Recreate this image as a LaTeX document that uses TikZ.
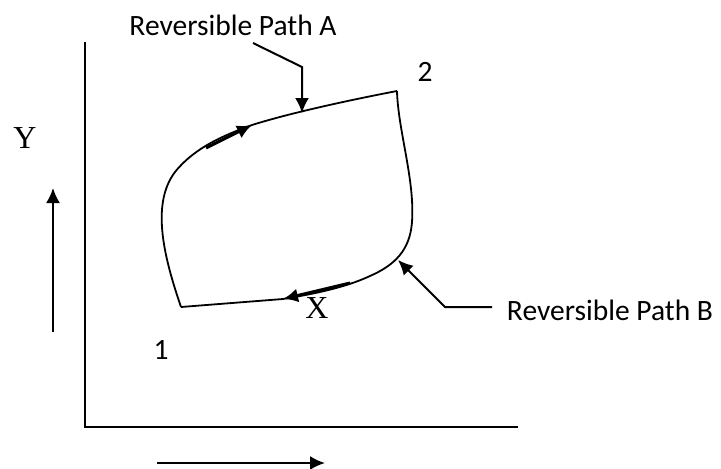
\documentclass[tikz,border=0pt]{standalone}
\usepackage{fontspec}
\setmainfont{Liberation Serif}
\newfontfamily\calib{Carlito}
\usetikzlibrary{arrows.meta}
\begin{document}
\begin{tikzpicture}[x=1pt,y=-1pt,
  axis/.style={line width=2pt},
  curve/.style={line width=1.8pt},
  lead/.style={line width=2pt},
  tipA/.style={-{Latex[length=15pt,width=14pt]}},
  lab/.style={font=\calib\fontsize{29.5}{34}\selectfont, inner sep=0pt},
  var/.style={font=\fontsize{32}{36}\selectfont, inner sep=0pt}]
\useasboundingbox (0,0) rectangle (721,469);
% axes
\coordinate (O) at (85,427);
\coordinate (ytop) at (85,42);
\coordinate (xend) at (518,427);
\draw[axis] (ytop) -- (O) -- (xend);
% direction arrows
\coordinate (ya) at (53,332);
\coordinate (yb) at (53,188);
\coordinate (xa) at (157,463);
\coordinate (xb) at (325,463);
\draw[lead,tipA] (ya) -- (yb);
\draw[lead,tipA] (xa) -- (xb);
\node[var] (Y) at (25,138) {Y};
\node[var] (X) at (317,308) {X};
% states
\coordinate (p1) at (181,307);
\coordinate (p2) at (397,91);
\node[lab] (n1) at (161,350) {1};
\node[lab] (n2) at (425,72) {2};
% cycle
\coordinate (aTip) at (252,125);
\coordinate (bTip) at (283,299);
\draw[curve] (p1) .. controls (165,260) and (150,205) .. (175,172)
  .. controls (195,147) and (225,135) .. (aTip)
  .. controls (290,113) and (350,100) .. (p2);
\draw[curve] (p2) .. controls (398,130) and (415,180) .. (412,222)
  .. controls (410,250) and (395,265) .. (370,276)
  .. controls (340,290) and (300,296) .. (bTip) -- (p1);
% direction marks on the cycle
\coordinate (aStart) at (206,148);
\coordinate (bStart) at (350,283);
\draw[line width=3pt,tipA] (aStart) -- (aTip);
\draw[line width=3pt,tipA] (bStart) -- (bTip);
% labels with leaders
\node[lab] (labA) at (233,25) {Reversible Path A};
\coordinate (la1) at (253,43);
\coordinate (la2) at (302,67);
\coordinate (laT) at (302,113);
\draw[lead,tipA] (la1) -- (la2) -- (laT);
\node[lab] (labB) at (610,310) {Reversible Path B};
\coordinate (lb1) at (492,307);
\coordinate (lb2) at (445,307);
\coordinate (lbT) at (398,260);
\draw[lead,tipA] (lb1) -- (lb2) -- (lbT);
\end{tikzpicture}
\end{document}
